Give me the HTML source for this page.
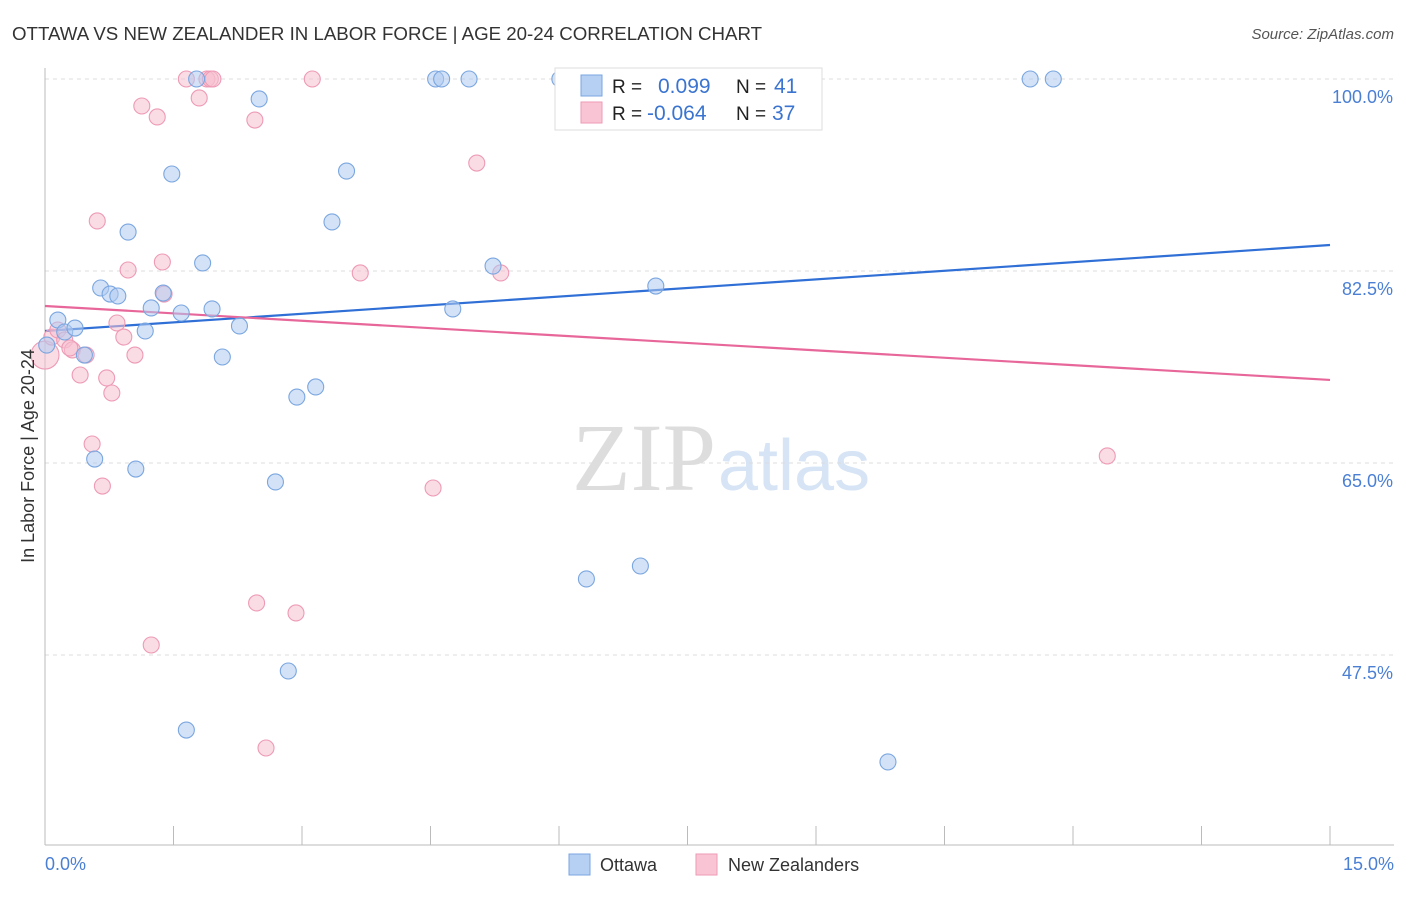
<!DOCTYPE html>
<html><head><meta charset="utf-8"><style>
body{margin:0;background:#fff;font-family:"Liberation Sans",sans-serif;}
svg text{font-family:"Liberation Sans",sans-serif;}
</style></head><body>
<svg id="chart" width="1406" height="892">
<text x="12" y="40" font-size="18.7" fill="#333">OTTAWA VS NEW ZEALANDER IN LABOR FORCE | AGE 20-24 CORRELATION CHART</text>
<text x="1394" y="39" font-size="15" fill="#555" font-style="italic" text-anchor="end">Source: ZipAtlas.com</text>
<text x="716" y="490" font-size="96" fill="#ddd" text-anchor="end" style="font-family:'Liberation Serif',serif">ZIP</text>
<text x="718" y="490" font-size="72" fill="#d6e4f5">atlas</text>
<g id="grid"></g>
<g id="axes"></g>
<g id="lines"></g>
<g id="points"></g>
<text transform="translate(34,456) rotate(-90)" font-size="18" fill="#333" text-anchor="middle">In Labor Force | Age 20-24</text>
<text x="45" y="870" font-size="18" fill="#4a7fd4">0.0%</text>
<text x="1394" y="870" font-size="18" fill="#4a7fd4" text-anchor="end">15.0%</text>
<g>
<rect x="555" y="68" width="267" height="62" fill="#fff" stroke="#ddd"/>
<rect x="581" y="75" width="21" height="21" fill="#b5d0f3" stroke="#7aa6e0"/>
<rect x="581" y="102" width="21" height="21" fill="#f9c5d5" stroke="#ee9ab5"/>
<text x="612" y="93" font-size="19" fill="#222">R =</text>
<text x="658" y="93" font-size="21" fill="#3a74d0">0.099</text>
<text x="736" y="93" font-size="19" fill="#222">N =</text>
<text x="774" y="93" font-size="21" fill="#3a74d0">41</text>
<text x="612" y="120" font-size="19" fill="#222">R =</text>
<text x="647" y="120" font-size="21" fill="#3a74d0">-0.064</text>
<text x="736" y="120" font-size="19" fill="#222">N =</text>
<text x="772" y="120" font-size="21" fill="#3a74d0">37</text>
</g>
<g>
<rect x="569" y="854" width="21" height="21" fill="#b5d0f3" stroke="#7aa6e0"/>
<text x="600" y="871" font-size="18" fill="#333">Ottawa</text></g>
<g>
<rect x="696" y="854" width="21" height="21" fill="#f9c5d5" stroke="#ee9ab5"/>
<text x="728" y="871" font-size="18" fill="#333">New Zealanders</text></g>
</svg>
<script>
const yTicks=[100,82.5,65,47.5];
const yTickLabels=["100.0%","82.5%","65.0%","47.5%"];
const xTicks=[0,1.5,3,4.5,6,7.5,9,10.5,12,13.5,15];
const ottawaX=[0.02,0.15,0.23,0.35,0.46,0.58,0.65,0.76,0.85,0.97,1.06,1.17,1.24,1.38,1.48,1.59,1.77,1.84,1.95,2.07,2.27,2.50,2.69,2.84,2.94,3.16,3.35,3.52,1.65,4.56,4.63,4.95,4.76,5.23,6.01,6.32,6.95,7.13,9.84,11.50,11.77];
const ottawaY=[75.75,78.03,76.94,77.30,74.84,65.36,80.95,80.40,80.22,86.05,64.45,77.03,79.13,80.49,91.34,78.67,100,83.23,79.04,74.66,77.49,98.18,63.27,46.04,71.01,71.93,86.97,91.61,40.66,100,100,100,79.04,82.95,100,54.43,55.61,81.13,37.75,100,100];
const nzX=[0,0.08,0.15,0.23,0.32,0.41,0.48,0.55,0.61,0.67,0.72,0.78,0.84,0.92,0.97,1.05,1.13,1.24,1.31,1.37,1.39,1.65,1.80,1.89,1.93,1.96,2.45,2.47,2.58,2.93,3.12,3.68,4.53,5.04,5.32,12.40,0.29];
const nzY=[74.84,76.48,77.12,76.21,75.30,73.02,74.84,66.73,87.06,62.90,72.75,71.38,77.76,76.48,82.59,74.84,97.54,48.41,96.54,83.32,80.40,100,98.27,100,100,100,96.26,52.24,39.02,51.33,100,82.32,62.72,92.34,82.32,65.64,75.48];
const ottawaTrend=[77.03,84.87];
const nzTrend=[79.31,72.57];
const NS="http://www.w3.org/2000/svg";
const sx=v=>45+v/15*1285;
const sy=v=>79+(100-v)*10.971;
function mk(tag,attrs,parent){const e=document.createElementNS(NS,tag);for(const k in attrs)e.setAttribute(k,attrs[k]);document.getElementById(parent).appendChild(e);return e;}
yTicks.forEach((t,i)=>{
 const l=mk('line',{x1:45,x2:1394,y1:sy(t),y2:sy(t),stroke:'#ddd','stroke-dasharray':'4,4'},'grid');
 
 
 const tx=mk('text',{x:1393,y:sy(t)+24,'font-size':18,fill:'#4a7fd4','text-anchor':'end'},'grid');
 tx.textContent=yTickLabels[i];
 
 
});
let a=mk('line',{x1:45,x2:45,y1:68,y2:845,stroke:'#bbb'},'axes');


a=mk('line',{x1:45,x2:1394,y1:845,y2:845,stroke:'#bbb'},'axes');


xTicks.forEach(t=>{
 const l=mk('line',{x1:sx(t),x2:sx(t),y1:826,y2:845,stroke:'#bbb'},'axes');
 
 
});
function pts(xs,ys,fill,stroke,name){
 xs.forEach((x,i)=>{
  const r=(name==='nz-point'&&i===0)?14:8;
  const c=mk('circle',{cx:sx(x),cy:sy(ys[i]),r:r,fill:fill,'fill-opacity':0.55,stroke:stroke,'stroke-width':1.1},'points');
  
  
 });
}
pts(nzX,nzY,'#f6bfd0','#ee9ab5','nz-point');
pts(ottawaX,ottawaY,'#aecbf0','#7aa6e0','ottawa-point');
let t=mk('line',{x1:sx(0),x2:sx(15),y1:sy(ottawaTrend[0]),y2:sy(ottawaTrend[1]),stroke:'#2f6fd6','stroke-width':2.2},'lines');


t=mk('line',{x1:sx(0),x2:sx(15),y1:sy(nzTrend[0]),y2:sy(nzTrend[1]),stroke:'#e8679a','stroke-width':2.2},'lines');


</script>
</body></html>
